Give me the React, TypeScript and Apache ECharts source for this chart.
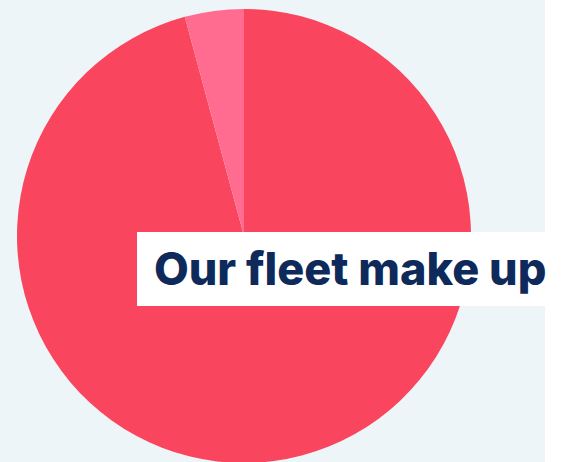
import React, { useEffect, useRef } from "react";
import * as echarts from "echarts";

const categories = ["Main fleet", "Other"];
const values = [95.8, 4.2];
const colors = ["#F9465E", "#FF6C8F"];
const titleText = "Our fleet make up";

export default function App() {
  const ref = useRef<HTMLDivElement>(null);
  useEffect(() => {
    const chart = echarts.init(ref.current!, null, { renderer: "svg" });
    chart.setOption({
      animation: false,
      backgroundColor: "#ffffff",
      graphic: [
        {
          type: "rect",
          z: -10,
          silent: true,
          shape: { x: 0, y: 0, width: 545, height: 462 },
          style: { fill: "#EEF5F8" },
        },
        {
          type: "rect",
          z: 100,
          shape: { x: 137, y: 232, width: 408, height: 74 },
          style: { fill: "#ffffff" },
        },
        {
          type: "text",
          z: 101,
          x: 154,
          y: 268,
          style: {
            text: titleText,
            fill: "#0E2A5B",
            font: "800 45px Inter",
            textVerticalAlign: "middle",
          },
        },
      ],
      series: [
        {
          type: "pie",
          center: [244, 236],
          radius: 227,
          startAngle: 90,
          clockwise: true,
          label: { show: false },
          labelLine: { show: false },
          emphasis: { disabled: true },
          itemStyle: { borderWidth: 0 },
          data: categories.map((name, i) => ({
            name,
            value: values[i],
            itemStyle: { color: colors[i] },
          })),
        },
      ],
    });
    return () => chart.dispose();
  }, []);
  return (
    <div
      ref={ref}
      style={{ position: "fixed", left: 0, top: 0, width: 562, height: 462 }}
    />
  );
}
